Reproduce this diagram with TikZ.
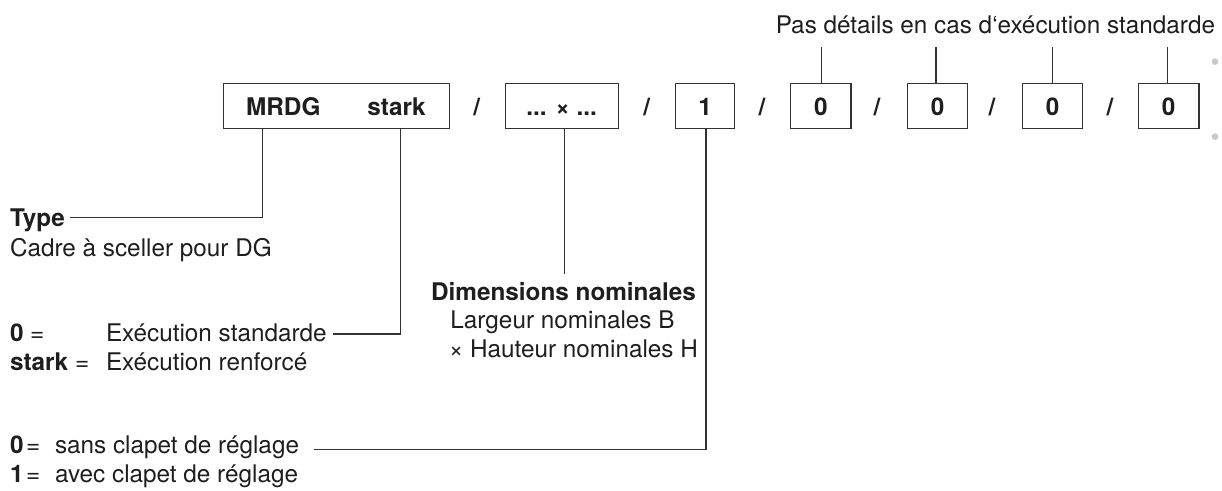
\documentclass[tikz,border=0pt]{standalone}
\usepackage{fontspec}
\setmainfont{TeX Gyre Heros}
\definecolor{txt}{HTML}{1E1E1E}
\definecolor{ln}{HTML}{333333}
\definecolor{dot}{HTML}{C8C8C8}
\newcommand{\fsz}{\fontsize{24.3}{28}\selectfont}
\begin{document}
\begin{tikzpicture}[x=1pt,y=-1pt,
  every node/.style={inner sep=0pt, outer sep=0pt, text=txt, font=\fsz},
  codebox/.style={draw=ln, line width=1.3pt, minimum height=45pt},
  lbl/.style={anchor=base west},
  boldlbl/.style={anchor=base west, font=\fsz\bfseries},
  boxtxt/.style={anchor=base, font=\fsz\bfseries},
  conn/.style={draw=ln, line width=1.3pt}]
\useasboundingbox (0,0) rectangle (1222,490);

% code boxes
\node[codebox, minimum width=226pt]  (b1) at (336.3,105.8) {};
\node[codebox, minimum width=112.6pt] (b2) at (562,105.8) {};
\node[codebox, minimum width=58.6pt] (b3) at (705,105.8) {};
\node[codebox, minimum width=60.3pt] (b4) at (820.85,105.8) {};
\node[codebox, minimum width=60.4pt] (b5) at (937.5,105.8) {};
\node[codebox, minimum width=60.4pt] (b6) at (1052.5,105.8) {};
\node[codebox, minimum width=60.7pt] (b7) at (1168.65,105.8) {};

% box contents
\node[boxtxt] (mrdg) at (283.3,115) {MRDG};
\node[boxtxt] (stk) at (396.5,115) {stark};
\node[boxtxt] (dim) at (561.7,115) {... × ...};
\node[boxtxt] (t3) at (705,115) {1};
\node[boxtxt] (t4) at (820.85,115) {0};
\node[boxtxt] (t5) at (937.5,115) {0};
\node[boxtxt] (t6) at (1052.5,115) {0};
\node[boxtxt] (t7) at (1168.65,115) {0};

% slashes
\node[boxtxt] (s1) at (476.7,115) {/};
\node[boxtxt] (s2) at (646.7,115) {/};
\node[boxtxt] (s3) at (762,115) {/};
\node[boxtxt] (s4) at (877,115) {/};
\node[boxtxt] (s5) at (992,115) {/};
\node[boxtxt] (s6) at (1110,115) {/};

% top label
\node[anchor=base east] (pas) at (1215,33) {Pas détails en cas d‘exécution standarde};

% grey dots
\fill[dot] (1215,61.7) circle (3.3pt);
\fill[dot] (1215,136.7) circle (3.3pt);

% Type
\node[boldlbl] (type) at (10,226) {Type};
\node[lbl] (cadre) at (10,256) {Cadre à sceller pour DG};

% execution
\node[boldlbl] (z0) at (10,341) {0};
\node[lbl] (eq0) at (30,341) {=};
\node[lbl] (exstd) at (106,341) {Exécution standarde};
\node[boldlbl] (zs) at (10,370) {stark};
\node[lbl] (eqs) at (75,370) {=};
\node[lbl] (exren) at (106,370) {Exécution renforcé};

% dimensions
\node[anchor=base, font=\fsz\bfseries] (dimt) at (563.5,300) {Dimensions nominales};
\node[anchor=base] (larg) at (562.5,328) {Largeur nominales B};
\node[anchor=base] (haut) at (573.5,357) {× Hauteur nominales H};

% clapet
\node[boldlbl] (c0) at (10,453.5) {0};
\node[lbl] (ceq0) at (26,453.5) {=};
\node[lbl] (sans) at (55,453.5) {sans clapet de réglage};
\node[boldlbl] (c1) at (10,482) {1};
\node[lbl] (ceq1) at (26,482) {=};
\node[lbl] (avec) at (55,482) {avec clapet de réglage};

% connector coordinates
\coordinate (kType) at (262.7,217.7);
\coordinate (eType) at (70,217.7);
\coordinate (kStark) at (400.3,334);
\coordinate (eStark) at (333,334);
\coordinate (kDim) at (564.3,274);
\coordinate (kCl) at (706,449.3);
\coordinate (eCl) at (314,449.3);
\coordinate (u4) at (821.7,46.7);
\coordinate (u5) at (936,46.7);
\coordinate (u6) at (1052.7,46.7);
\coordinate (u7) at (1167.7,46.7);

% connectors
\draw[conn] (b1.south -| kType) -- (kType) -- (eType);
\draw[conn] (b1.south -| kStark) -- (kStark) -- (eStark);
\draw[conn] (b2.south -| kDim) -- (kDim);
\draw[conn] (b3.south -| kCl) -- (kCl) -- (eCl);
\draw[conn] (b4.north -| u4) -- (u4);
\draw[conn] (b5.north -| u5) -- (u5);
\draw[conn] (b6.north -| u6) -- (u6);
\draw[conn] (b7.north -| u7) -- (u7);
\end{tikzpicture}
\end{document}
